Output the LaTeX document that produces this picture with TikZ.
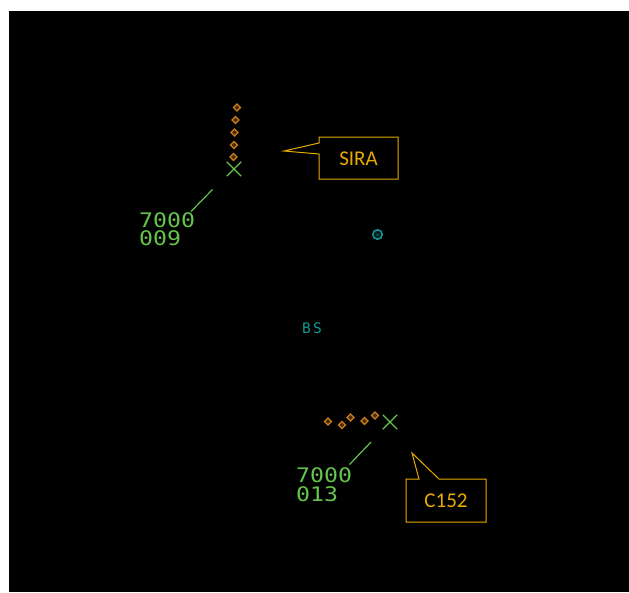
\documentclass[tikz,border=0pt]{standalone}
\usepackage{fontspec}
\setmainfont{Carlito}
\newfontfamily\radarfont[FakeStretch=1.16]{DejaVu Sans Mono}
\newfontfamily\beaconfont{DejaVu Sans Mono}
\usetikzlibrary{shapes.geometric}
\definecolor{trackgreen}{RGB}{100,196,76}
\definecolor{historange}{RGB}{205,125,30}
\definecolor{calloutgold}{RGB}{232,172,0}
\definecolor{beaconteal}{RGB}{20,150,150}
\tikzset{
  histdot/.style={diamond, draw=historange, fill=historange!35!black, line width=1.2pt, inner sep=0pt, minimum size=7.5pt},
  planecross/.style={draw=none, inner sep=0pt, minimum size=14pt},
  crossline/.style={trackgreen, line width=1.3pt},
  leader/.style={trackgreen, line width=1.2pt},
  dataline/.style={text=trackgreen, font=\radarfont\fontsize{20}{18}\selectfont, anchor=north west, inner sep=0pt, text height=14.6pt, text depth=0pt},
  callout/.style={calloutgold, line width=1pt, line join=miter},
  callouttext/.style={text=calloutgold, font=\fontsize{21}{22}\selectfont, inner sep=0pt},
}
\begin{document}
\begin{tikzpicture}[x=1pt,y=-1pt]
\useasboundingbox (0,0) rectangle (629,592);
\fill[white] (0,0) rectangle (629,592);
\fill[black] (9,11) rectangle (629,592);

% ---- upper track (SIRA) ----
\node[histdot] (h1) at (237,107.5) {};
\node[histdot] (h2) at (235.5,120) {};
\node[histdot] (h3) at (234.5,132.5) {};
\node[histdot] (h4) at (234,145) {};
\node[histdot] (h5) at (233.5,157) {};
\node[planecross] (p1) at (234,169) {};
\draw[crossline] (p1.north west) -- (p1.south east) (p1.north east) -- (p1.south west);
\coordinate (l1a) at (212.5,189.5);
\coordinate (l1b) at (191,211.5);
\draw[leader] (l1a) -- (l1b);
\node[dataline] (d1a) at (139,212.5) {7000};
\node[dataline] (d1b) at (139,231) {009};

% SIRA callout
\coordinate (s1) at (319,137);
\coordinate (s2) at (398,137);
\coordinate (s3) at (398,179);
\coordinate (s4) at (319,179);
\coordinate (s5) at (319,154);
\coordinate (stip) at (284,151);
\coordinate (s6) at (319,143);
\draw[callout] (s1) -- (s2) -- (s3) -- (s4) -- (s5) -- (stip) -- (s6) -- cycle;
\node[callouttext] (sira) at (358.5,158.5) {SIRA};

% ---- beacon and BS ----
\node[circle, draw=beaconteal, line width=1.5pt, minimum size=9.5pt, inner sep=0pt, fill=beaconteal!22!black] (bc) at (377.5,234.5) {};
\node[circle, fill=beaconteal!60!black, minimum size=2.5pt, inner sep=0pt] (bci) at (bc) {};
\node[text=beaconteal, font=\beaconfont\fontsize{14.5}{14}\selectfont, inner sep=0pt] (bs) at (312,328) {B\kern2.5pt S};

% ---- lower track (C152) ----
\node[histdot] (g1) at (328,421.5) {};
\node[histdot] (g2) at (342,425) {};
\node[histdot] (g3) at (350.5,417.5) {};
\node[histdot] (g4) at (364.5,421) {};
\node[histdot] (g5) at (375,415.5) {};
\node[planecross] (p2) at (390,422) {};
\draw[crossline] (p2.north west) -- (p2.south east) (p2.north east) -- (p2.south west);
\coordinate (l2a) at (371,442);
\coordinate (l2b) at (349.5,464.5);
\draw[leader] (l2a) -- (l2b);
\node[dataline] (d2a) at (296,468) {7000};
\node[dataline] (d2b) at (296,486.5) {013};

% C152 callout
\coordinate (c1) at (406,479);
\coordinate (c2) at (419,479);
\coordinate (ctip) at (412,453);
\coordinate (c3) at (439,479);
\coordinate (c4) at (486,479);
\coordinate (c5) at (486,522);
\coordinate (c6) at (406,522);
\draw[callout] (c1) -- (c2) -- (ctip) -- (c3) -- (c4) -- (c5) -- (c6) -- cycle;
\node[callouttext] (c152) at (446,500.5) {C152};
\end{tikzpicture}
\end{document}
